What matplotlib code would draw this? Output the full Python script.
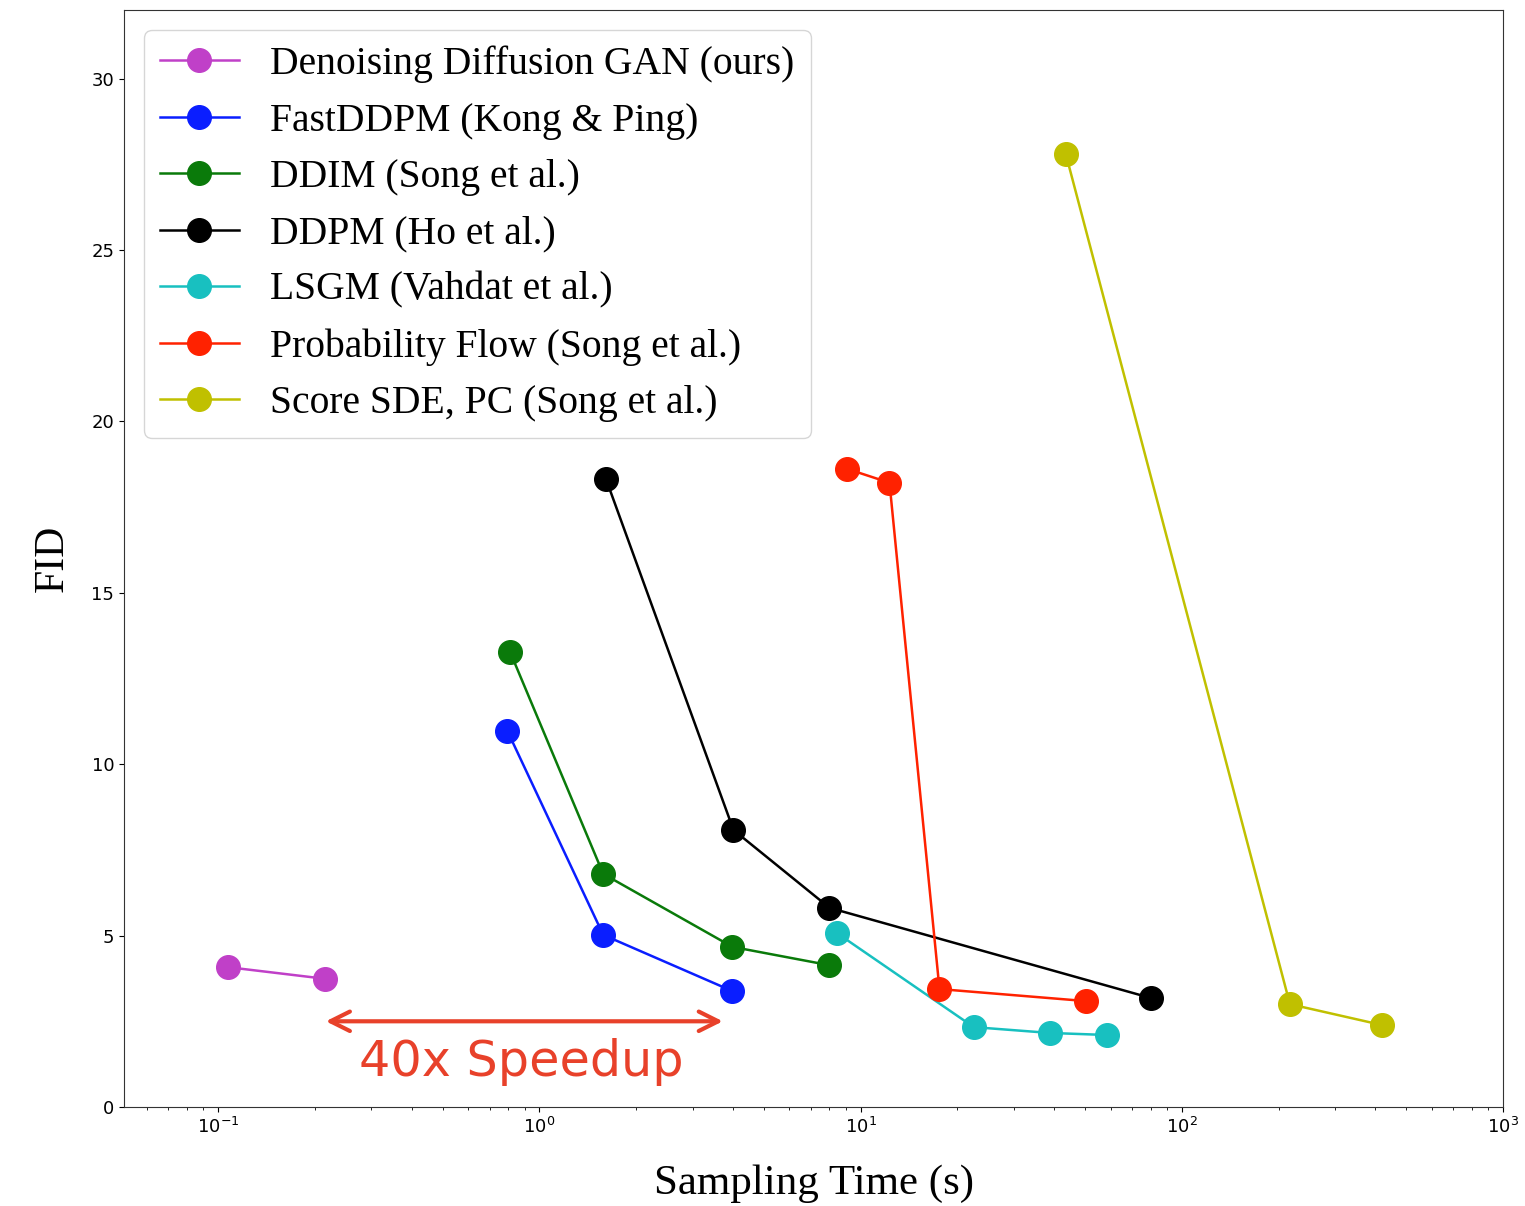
import matplotlib.pyplot as plt

# czasy probkowania (s) i FID
ddgan_t = [0.107, 0.215]
ddgan_fid = [4.08, 3.74]

fastddpm_t = [0.795, 1.58, 3.99]
fastddpm_fid = [10.97, 5.02, 3.38]

ddim_t = [0.81, 1.58, 3.99, 7.95]
ddim_fid = [13.28, 6.80, 4.67, 4.14]

ddpm_t = [1.61, 4.02, 8.0, 80.0]
ddpm_fid = [18.33, 8.08, 5.81, 3.18]

lsgm_t = [8.42, 22.5, 38.8, 58.4]
lsgm_fid = [5.08, 2.33, 2.16, 2.10]

pflow_t = [9.04, 12.3, 17.6, 50.2]
pflow_fid = [18.62, 18.21, 3.44, 3.09]

sde_t = [43.5, 217.0, 420.0]
sde_fid = [27.81, 3.00, 2.39]

series = [
    (ddgan_t, ddgan_fid, '#c040c8', 'Denoising Diffusion GAN (ours)'),
    (fastddpm_t, fastddpm_fid, '#0a1eff', 'FastDDPM (Kong & Ping)'),
    (ddim_t, ddim_fid, '#0a7a0a', 'DDIM (Song et al.)'),
    (ddpm_t, ddpm_fid, 'black', 'DDPM (Ho et al.)'),
    (lsgm_t, lsgm_fid, '#18c0c0', 'LSGM (Vahdat et al.)'),
    (pflow_t, pflow_fid, '#ff2200', 'Probability Flow (Song et al.)'),
    (sde_t, sde_fid, '#c0c000', 'Score SDE, PC (Song et al.)'),
]

serif = ['Liberation Serif', 'DejaVu Serif']

fig = plt.figure(figsize=(15.25, 12.06), dpi=100)
ax = fig.add_axes([0.0813, 0.0821, 0.9043, 0.9096])

for t, fid, col, lab in series:
    ax.plot(t, fid, '-o', color=col, label=lab, lw=1.8, markersize=17)

ax.set_xscale('log')
ax.set_xlim(0.0509, 1000)
ax.set_ylim(0, 32)
ax.set_yticks([0, 5, 10, 15, 20, 25, 30])
ax.tick_params(labelsize=13)
for s in ax.spines.values():
    s.set_color('#333333')

ax.set_xlabel('Sampling Time (s)', fontsize=31, family=serif, labelpad=20)
ax.set_ylabel('FID', fontsize=30, family=serif, labelpad=14)

ax.legend(loc='upper left', prop={'family': serif, 'size': 28.5},
          handlelength=2.0, borderaxespad=0.5, labelspacing=0.49)

# strzalka przyspieszenia
ax.annotate('', xy=(0.212, 2.5), xytext=(3.8, 2.5),
            arrowprops=dict(arrowstyle='<->', color='#e8412a', lw=3,
                            mutation_scale=35))
ax.text(0.88, 1.3, '40x Speedup', color='#e8412a', fontsize=35.5,
        ha='center', va='center')

fig.savefig('out.png', dpi=100)
